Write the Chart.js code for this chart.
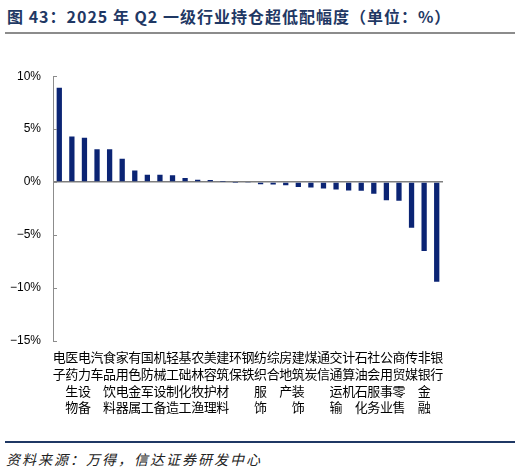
<!DOCTYPE html>
<html>
<head>
<meta charset="utf-8">
<script src="https://cdn.jsdelivr.net/npm/chart.js@4"></script>
<style>
  body { margin: 0; background: #fff; width: 520px; height: 472px; position: relative; overflow: hidden; }
  #title { position: absolute; left: 7px; top: 4px; font: bold 16px "Noto Sans CJK SC", sans-serif; letter-spacing: 1px; color: #1f3864; white-space: nowrap; }
  #title-line { position: absolute; left: 5px; top: 32px; width: 510px; height: 2px; background: #8c8c8c; }
  #chart-box { position: absolute; left: 0; top: 57px; width: 460px; height: 369px; }
  #foot-line { position: absolute; left: 5px; top: 441px; width: 510px; height: 2px; background: #1f3864; }
  #source { position: absolute; left: 6px; top: 449px; font: italic 14px "Noto Sans CJK SC", sans-serif; letter-spacing: 2px; color: #222; white-space: nowrap; }
</style>
</head>
<body>
<div id="title">图 43：2025 年 Q2 一级行业持仓超低配幅度（单位：%）</div>
<div id="title-line"></div>
<div id="chart-box"><canvas id="chart"></canvas></div>
<div id="foot-line"></div>
<div id="source">资料来源：万得，信达证券研发中心</div>
<script>
const industries = ['电子', '医药生物', '电力设备', '汽车', '食品饮料', '家用电器', '有色金属', '国防军工',
    '机械设备', '轻工制造', '基础化工', '农林牧渔', '美容护理', '建筑材料', '环保', '钢铁',
    '纺织服饰', '综合', '房地产', '建筑装饰', '煤炭', '通信', '交通运输', '计算机',
    '石油石化', '社会服务', '公用事业', '商贸零售', '传媒', '非银金融', '银行'];
const overweight = [8.9, 4.3, 4.2, 3.1, 3.1, 2.2, 1.1, 0.7,
    0.7, 0.65, 0.4, 0.22, 0.2, 0.03, -0.02, -0.03,
    -0.2, -0.22, -0.3, -0.47, -0.5, -0.6, -0.7, -0.8,
    -0.82, -1.1, -1.7, -1.76, -4.3, -6.5, -9.4];
const yTicks = [10, 5, 0, -5, -10, -15];

// y axis ticks point into the plot
const innerTicks = {
    id: 'innerTicks',
    afterDraw(chart) {
        const ctx = chart.ctx;
        const y = chart.scales.y;
        const left = chart.chartArea.left;
        ctx.save();
        ctx.strokeStyle = '#8c8c8c';
        ctx.lineWidth = 1;
        yTicks.forEach(function (t) {
            const py = Math.round(y.getPixelForValue(t)) + 0.5;
            ctx.beginPath();
            ctx.moveTo(left, py);
            ctx.lineTo(left + 4, py);
            ctx.stroke();
        });
        ctx.restore();
    }
};

new Chart(document.getElementById('chart'), {
    type: 'bar',
    data: {
        labels: industries.map(function (name) { return name.split(''); }),
        datasets: [{
            data: overweight,
            backgroundColor: '#0b2474',
            barPercentage: 0.84,
            categoryPercentage: 0.5
        }]
    },
    options: {
        responsive: true,
        maintainAspectRatio: false,
        animation: false,
        layout: { padding: { top: 0, right: 17, left: 0, bottom: 0 } },
        plugins: {
            legend: { display: false },
            tooltip: { enabled: false }
        },
        scales: {
            x: {
                grid: { display: false },
                border: { display: false },
                ticks: {
                    autoSkip: false,
                    maxRotation: 0,
                    minRotation: 0,
                    padding: 0,
                    color: '#000',
                    font: { family: '"Noto Sans CJK SC"', size: 13, lineHeight: 1.28 }
                },
                afterFit: function (scale) { scale.height = 85; }
            },
            y: {
                min: -15,
                max: 10,
                afterBuildTicks: function (scale) {
                    scale.ticks = yTicks.map(function (v) { return { value: v }; });
                },
                grid: {
                    drawTicks: false,
                    color: function (c) { return c.tick && c.tick.value === 0 ? '#7f7f7f' : 'rgba(0,0,0,0)'; },
                    lineWidth: function (c) { return c.tick && c.tick.value === 0 ? 1.5 : 0; }
                },
                border: { color: '#8c8c8c', width: 1 },
                ticks: {
                    padding: 12,
                    color: '#000',
                    font: { family: '"Liberation Sans", Arial', size: 12 },
                    callback: function (v) { return v < 0 ? '\u2212' + Math.abs(v) + '%' : v + '%'; }
                },
                afterFit: function (scale) { scale.width = 53; }
            }
        }
    },
    plugins: [innerTicks]
});
</script>
</body>
</html>
